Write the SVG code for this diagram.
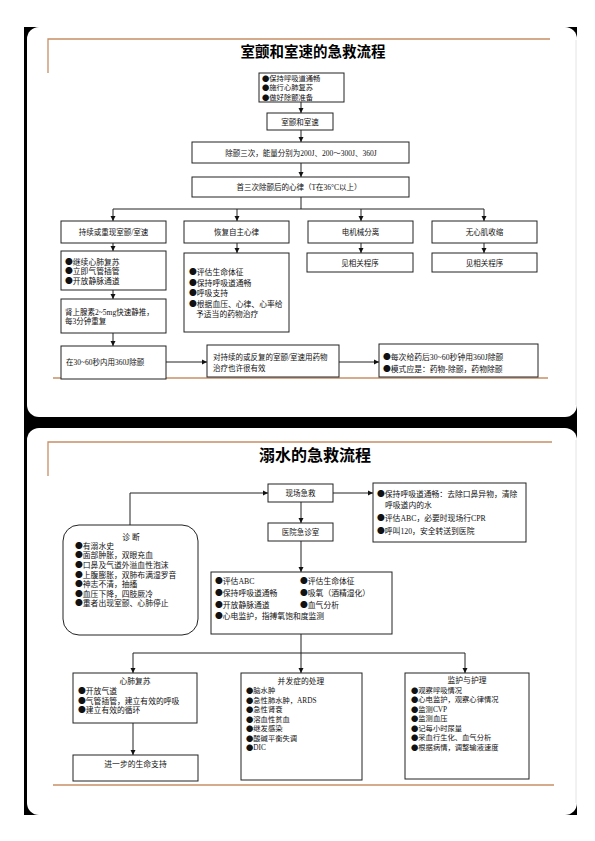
<svg xmlns="http://www.w3.org/2000/svg" width="595" height="841" viewBox="0 0 595 841">
<style>
text{font-family:'Liberation Serif','Noto Sans CJK SC',sans-serif;fill:#111;font-size:7.8px}
.s{font-size:7.5px}
.s2{font-size:7.3px}
.c{text-anchor:middle}
.d{font-family:'Noto Sans CJK SC',sans-serif}
.t{font-family:'Noto Sans CJK SC',sans-serif;font-weight:bold;text-anchor:middle;fill:#000}
.t1{font-size:14.5px}
.t2{font-size:16px}
.b{fill:#fff;stroke:#222;stroke-width:1}
.ln{fill:none;stroke:#222;stroke-width:1}
.or{fill:none;stroke:#c88f66;stroke-width:1.3}
</style>
<defs>
<marker id="ah" markerUnits="userSpaceOnUse" markerWidth="6" markerHeight="6" refX="5" refY="3" orient="auto">
<path d="M0,0.5 L5,3 L0,5.5 Z" fill="#111"/>
</marker>
</defs>
<rect x="0" y="0" width="595" height="841" fill="#fff"/>
<g id="frame">
<rect x="24" y="27" width="553" height="788" fill="#000"/>
<rect x="27" y="27" width="550" height="390" rx="12" fill="#fff"/>
<rect x="27" y="428" width="550" height="387" rx="12" fill="#fff"/>
<line x1="576" y1="40" x2="576" y2="405" stroke="#e4e4e4" stroke-width="1"/>
<line x1="576" y1="440" x2="576" y2="803" stroke="#e4e4e4" stroke-width="1"/>
<path class="or" d="M48,73 V39 H550"/>
<path class="or" d="M53,378 H548"/>
<path class="or" d="M48,476 V442 H552"/>
<path class="or" d="M53,785 H554"/>
</g>
<text class="t t1" x="313" y="57">室颤和室速的急救流程</text>
<text class="t t2" x="315" y="461">溺水的急救流程</text>
<g id="connectors">
<line class="ln" x1="301" y1="102" x2="301" y2="113" marker-end="url(#ah)"/>
<line class="ln" x1="301" y1="130" x2="301" y2="142" marker-end="url(#ah)"/>
<line class="ln" x1="301" y1="163" x2="301" y2="177" marker-end="url(#ah)"/>
<path class="ln" d="M301,197 V209 M113,209 H484"/>
<line class="ln" x1="113" y1="209" x2="113" y2="221" marker-end="url(#ah)"/>
<line class="ln" x1="237" y1="209" x2="237" y2="221" marker-end="url(#ah)"/>
<line class="ln" x1="361" y1="209" x2="361" y2="221" marker-end="url(#ah)"/>
<line class="ln" x1="484" y1="209" x2="484" y2="221" marker-end="url(#ah)"/>
<line class="ln" x1="113" y1="243" x2="113" y2="251" marker-end="url(#ah)"/>
<line class="ln" x1="237" y1="243" x2="237" y2="253" marker-end="url(#ah)"/>
<line class="ln" x1="361" y1="243" x2="361" y2="253" marker-end="url(#ah)"/>
<line class="ln" x1="484" y1="243" x2="484" y2="253" marker-end="url(#ah)"/>
<line class="ln" x1="113" y1="290" x2="113" y2="299" marker-end="url(#ah)"/>
<line class="ln" x1="113" y1="333" x2="113" y2="346" marker-end="url(#ah)"/>
<line class="ln" x1="166" y1="362" x2="207" y2="362" marker-end="url(#ah)"/>
<line class="ln" x1="339" y1="362" x2="379" y2="362" marker-end="url(#ah)"/>
<line class="ln" x1="333" y1="493" x2="373" y2="493" marker-end="url(#ah)"/>
<line class="ln" x1="301" y1="502" x2="301" y2="523" marker-end="url(#ah)"/>
<path class="ln" d="M130,525 V493 H268" marker-end="url(#ah)"/>
<line class="ln" x1="301" y1="541" x2="301" y2="572" marker-end="url(#ah)"/>
<path class="ln" d="M301,634 V653 M133,653 H465"/>
<line class="ln" x1="133" y1="653" x2="133" y2="673" marker-end="url(#ah)"/>
<line class="ln" x1="301" y1="653" x2="301" y2="673" marker-end="url(#ah)"/>
<line class="ln" x1="465" y1="653" x2="465" y2="673" marker-end="url(#ah)"/>
<line class="ln" x1="133" y1="723" x2="133" y2="755" marker-end="url(#ah)"/>
</g>
<g id="n1"><rect class="b" x="259" y="73" width="85" height="29"/>
<text class="s2" x="262" y="80.5"><tspan class="d">●</tspan>保持呼吸道通畅</text><text class="s2" x="262" y="90"><tspan class="d">●</tspan>施行心肺复苏</text><text class="s2" x="262" y="99.5"><tspan class="d">●</tspan>做好除颤准备</text></g>
<g id="n2"><rect class="b" x="267" y="113" width="66" height="17"/><text class="c s" x="300" y="124.5">室颤和室速</text></g>
<g id="n3"><rect class="b" x="192" y="142" width="217" height="21"/><text class="c s" x="301" y="155.5">除颤三次，能量分别为200J、200～300J、360J</text></g>
<g id="n4"><rect class="b" x="192" y="177" width="217" height="20"/><text class="c s" x="299" y="190">首三次除颤后的心律（T在36°C以上）</text></g>
<g id="nA"><rect class="b" x="61" y="221" width="105" height="22"/><text class="c s" x="113.5" y="235">持续或重现室颤/室速</text></g>
<g id="nB"><rect class="b" x="184" y="221" width="105" height="22"/><text class="c s" x="236.5" y="235">恢复自主心律</text></g>
<g id="nC"><rect class="b" x="308" y="221" width="105" height="22"/><text class="c s" x="360.5" y="235">电机械分离</text></g>
<g id="nD"><rect class="b" x="432" y="221" width="105" height="22"/><text class="c s" x="484.5" y="235">无心肌收缩</text></g>
<g id="nA2"><rect class="b" x="61" y="251" width="105" height="39"/>
<text x="65" y="264.5"><tspan class="d">●</tspan>继续心肺复苏</text><text x="65" y="274"><tspan class="d">●</tspan>立即气管插管</text><text x="65" y="283.5"><tspan class="d">●</tspan>开放静脉通道</text></g>
<g id="nA3"><rect class="b" x="61" y="299" width="105" height="34"/>
<text class="s" x="65" y="314.5">肾上腺素2~5mg快速静推，</text><text class="s" x="65" y="324">每3分钟重复</text></g>
<g id="nA4"><rect class="b" x="61" y="346" width="105" height="33"/><text class="s" x="66" y="365">在30~60秒内用360J除颤</text></g>
<g id="nE"><rect class="b" x="207" y="345" width="132" height="32"/>
<text class="s" x="213" y="360">对持续的或反复的室颤/室速用药物</text><text class="s" x="213" y="371">治疗也许很有效</text></g>
<g id="nF"><rect class="b" x="379" y="344" width="159" height="33"/>
<text x="383" y="360"><tspan class="d">●</tspan>每次给药后30~60秒钟用360J除颤</text><text x="383" y="372"><tspan class="d">●</tspan>模式应是：药物-除颤，药物除颤</text></g>
<g id="nB2"><rect class="b" x="184" y="253" width="105" height="79"/>
<text x="189" y="275"><tspan class="d">●</tspan>评估生命体征</text><text x="189" y="285.5"><tspan class="d">●</tspan>保持呼吸道通畅</text><text x="189" y="296"><tspan class="d">●</tspan>呼吸支持</text><text x="189" y="306.5"><tspan class="d">●</tspan>根据血压、心律、心率给</text><text x="196" y="317">予适当的药物治疗</text></g>
<g id="nC2"><rect class="b" x="307" y="253" width="106" height="19"/><text class="c s" x="360" y="265.5">见相关程序</text></g>
<g id="nD2"><rect class="b" x="432" y="253" width="105" height="19"/><text class="c s" x="484.5" y="265.5">见相关程序</text></g>
<g id="m1"><rect class="b" x="268" y="484" width="65" height="18"/><text class="c s" x="300.5" y="496">现场急救</text></g>
<g id="m2"><rect class="b" x="373" y="483" width="153" height="59"/>
<text x="377" y="497"><tspan class="d">●</tspan>保持呼吸道通畅：去除口鼻异物，清除</text><text x="385" y="507.5">呼吸道内的水</text><text x="377" y="521"><tspan class="d">●</tspan>评估ABC，必要时现场行CPR</text><text x="377" y="534"><tspan class="d">●</tspan>呼叫120，安全转送到医院</text></g>
<g id="m3"><rect class="b" x="268" y="523" width="65" height="18"/><text class="c s" x="300.5" y="535">医院急诊室</text></g>
<g id="m4"><rect class="b" x="63" y="525" width="135" height="110" rx="16"/>
<text class="c" x="131" y="540">诊  断</text>
<text x="75" y="548.5"><tspan class="d">●</tspan>有溺水史</text><text x="75" y="558"><tspan class="d">●</tspan>面部肿胀，双眼充血</text><text x="75" y="568"><tspan class="d">●</tspan>口鼻及气道外溢血性泡沫</text><text x="75" y="577.5"><tspan class="d">●</tspan>上腹膨胀，双肺布满湿罗音</text><text x="75" y="587"><tspan class="d">●</tspan>神志不清，抽搐</text><text x="75" y="596.5"><tspan class="d">●</tspan>血压下降，四肢厥冷</text><text x="75" y="606"><tspan class="d">●</tspan>重者出现室颤、心肺停止</text></g>
<g id="m5"><rect class="b" x="211" y="572" width="181" height="62"/>
<text x="215" y="584"><tspan class="d">●</tspan>评估ABC</text><text x="215" y="596"><tspan class="d">●</tspan>保持呼吸道通畅</text><text x="215" y="607.5"><tspan class="d">●</tspan>开放静脉通道</text><text x="215" y="619"><tspan class="d">●</tspan>心电监护，指搏氧饱和度监测</text>
<text x="300" y="584"><tspan class="d">●</tspan>评估生命体征</text><text x="300" y="596"><tspan class="d">●</tspan>吸氧（酒精湿化）</text><text x="300" y="607.5"><tspan class="d">●</tspan>血气分析</text></g>
<g id="m6"><rect class="b" x="73" y="673" width="124" height="50"/>
<text class="c" x="135" y="684">心肺复苏</text><text x="78" y="694"><tspan class="d">●</tspan>开放气道</text><text x="78" y="703.5"><tspan class="d">●</tspan>气管插管，建立有效的呼吸</text><text x="78" y="713"><tspan class="d">●</tspan>建立有效的循环</text></g>
<g id="m7"><rect class="b" x="73" y="755" width="125" height="26"/><text class="c" x="135.5" y="767">进一步的生命支持</text></g>
<g id="m8"><rect class="b" x="241" y="673" width="121" height="107"/>
<text class="c" x="301" y="684">并发症的处理</text>
<text class="s2" x="246" y="693"><tspan class="d">●</tspan>脑水肿</text><text class="s2" x="246" y="702.5"><tspan class="d">●</tspan>急性肺水肿，ARDS</text><text class="s2" x="246" y="712"><tspan class="d">●</tspan>急性肾衰</text><text class="s2" x="246" y="721.5"><tspan class="d">●</tspan>溶血性贫血</text><text class="s2" x="246" y="731"><tspan class="d">●</tspan>继发感染</text><text class="s2" x="246" y="740.5"><tspan class="d">●</tspan>酸碱平衡失调</text><text class="s2" x="246" y="750"><tspan class="d">●</tspan>DIC</text></g>
<g id="m9"><rect class="b" x="405" y="673" width="124" height="106"/>
<text class="c" x="467" y="683">监护与护理</text>
<text class="s2" x="411" y="692.5"><tspan class="d">●</tspan>观察呼吸情况</text><text class="s2" x="411" y="702"><tspan class="d">●</tspan>心电监护，观察心律情况</text><text class="s2" x="411" y="711.5"><tspan class="d">●</tspan>监测CVP</text><text class="s2" x="411" y="721"><tspan class="d">●</tspan>监测血压</text><text class="s2" x="411" y="730.5"><tspan class="d">●</tspan>记每小时尿量</text><text class="s2" x="411" y="740"><tspan class="d">●</tspan>采血行生化、血气分析</text><text class="s2" x="411" y="749.5"><tspan class="d">●</tspan>根据病情，调整输液速度</text></g>
</svg>
